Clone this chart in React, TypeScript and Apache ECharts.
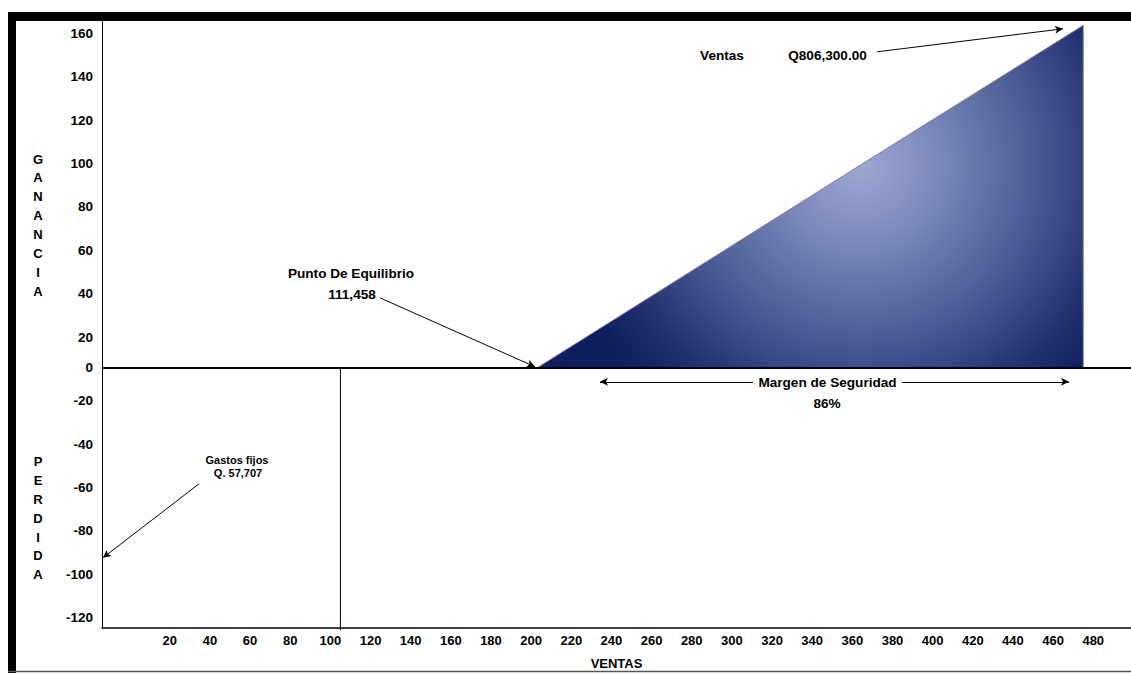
import React, { useEffect, useRef } from "react";
import * as echarts from "echarts";

// ---- data ----
const xTickLabels = [20, 40, 60, 80, 100, 120, 140, 160, 180, 200, 220, 240, 260, 280, 300, 320, 340, 360, 380, 400, 420, 440, 460, 480];
const yMin = -120;
const yMax = 160;
const yStep = 20;
const xMin = -13.75;
const xMax = 498.8;
// profit triangle (break-even -> sales)
const profitArea = [[203, 0], [475, 158], [475, 0]];
// vertical reference line
const refLine = [[105, 0], [105, -121]];
// annotation arrows [from, to]
const salesArrow = [[372.4, 145.8], [464.9, 156.4]];
const breakEvenArrow = [[124.7, 32.3], [201.9, 0.5]];
const fixedCostArrow = [[34.6, -53.5], [-13.3, -87.6]];
const marginLeftArrow = [[310.5, -6.46], [234.3, -6.46]];
const marginRightArrow = [[384.7, -6.46], [467.9, -6.46]];
// texts
const salesLabel = "Ventas";
const salesValue = "Q806,300.00";
const breakEvenLabel = "Punto De Equilibrio";
const breakEvenValue = "111,458";
const marginLabel = "Margen de Seguridad";
const marginValue = "86%";
const fixedLabel = "Gastos fijos";
const fixedValue = "Q. 57,707";
const profitTitle = "GANANCIA";
const lossTitle = "PERDIDA";
const xTitle = "VENTAS";

const FF = "'Liberation Sans', Arial, sans-serif";
const bold = (s: number) => `bold ${s}px ${FF}`;

const arrowItem = (a: number[][]) => [{ coord: a[0] }, { coord: a[1] }];

export default function App() {
  const ref = useRef<HTMLDivElement>(null);
  useEffect(() => {
    if (!ref.current) return;
    const chart = echarts.init(ref.current, undefined, { renderer: "svg" });
    const txt = (text: string, x: number, y: number, size: number, extra: any = {}) => ({
      type: "text",
      x,
      y,
      z: 10,
      style: { text, font: bold(size), fill: "#000", align: "center", verticalAlign: "middle", ...extra },
    });
    chart.setOption({
      animation: false,
      backgroundColor: "#fff",
      grid: { left: 102, top: 21, right: 0, bottom: 45, containLabel: false, outerBoundsMode: "none" },
      xAxis: {
        type: "value",
        min: xMin,
        max: xMax,
        position: "bottom",
        axisLine: { onZero: false, lineStyle: { color: "#000", width: 1.5 } },
        axisTick: { show: false },
        splitLine: { show: false },
        axisLabel: {
          customValues: xTickLabels,
          margin: 6,
          color: "#000",
          fontWeight: "bold",
          fontSize: 13,
          fontFamily: FF,
        },
        name: xTitle,
        nameLocation: "middle",
        nameGap: 29,
        nameTextStyle: { color: "#000", fontWeight: "bold", fontSize: 13, fontFamily: FF },
      },
      yAxis: {
        type: "value",
        min: yMin,
        max: yMax,
        interval: yStep,
        axisLine: { show: true, onZero: false, lineStyle: { color: "#000", width: 1 } },
        axisTick: { show: false },
        splitLine: { show: false },
        axisLabel: {
          margin: 9,
          color: "#000",
          fontWeight: "bold",
          fontSize: 13.5,
          fontFamily: FF,
          formatter: (v: number) => (v > 0 ? `{p|${v}}` : v < 0 ? `{n|${v}}` : `{z|${v}}`),
          rich: {
            p: { padding: [25, 0, 0, 0], fontWeight: "bold", fontSize: 13.5, fontFamily: FF, color: "#000" },
            n: { padding: [0, 0, 21, 0], fontWeight: "bold", fontSize: 13.5, fontFamily: FF, color: "#000" },
            z: { fontWeight: "bold", fontSize: 13.5, fontFamily: FF, color: "#000" },
          },
        },
      },
      series: [
        {
          type: "line",
          data: profitArea,
          symbol: "none",
          lineStyle: { color: "#8677ad", width: 1 },
          areaStyle: {
            opacity: 1,
            color: {
              type: "radial",
              global: true,
              x: 860,
              y: 165,
              r: 310,
              colorStops: [
                { offset: 0, color: "#9ea7d2" },
                { offset: 0.15, color: "#8b95c5" },
                { offset: 0.3, color: "#7382b5" },
                { offset: 0.45, color: "#5d6da2" },
                { offset: 0.6, color: "#465692" },
                { offset: 0.72, color: "#33437f" },
                { offset: 0.86, color: "#1c2c6c" },
                { offset: 1, color: "#0e1d5e" },
              ],
            },
          },
          z: 2,
        },
        {
          type: "line",
          data: refLine,
          symbol: "none",
          clip: false,
          lineStyle: { color: "#000", width: 1 },
          markLine: {
            silent: true,
            symbol: "none",
            label: { show: false },
            lineStyle: { color: "#000", width: 2, type: "solid" },
            data: [{ yAxis: 0 }],
          },
          z: 3,
        },
        {
          type: "line",
          data: [],
          markLine: {
            silent: true,
            symbol: ["none", "arrow"],
            symbolSize: [6, 8],
            label: { show: false },
            lineStyle: { color: "#000", width: 1, type: "solid" },
            data: [
              arrowItem(salesArrow),
              arrowItem(breakEvenArrow),
              arrowItem(fixedCostArrow),
              arrowItem(marginLeftArrow),
              arrowItem(marginRightArrow),
            ],
          },
          z: 4,
        },
      ],
      graphic: [
        { type: "rect", shape: { x: 8, y: 12, width: 1123, height: 9 }, style: { fill: "#000" }, z: 20 },
        { type: "rect", shape: { x: 8, y: 12, width: 8, height: 661 }, style: { fill: "#000" }, z: 20 },
        { type: "line", shape: { x1: 8, y1: 671.5, x2: 1131, y2: 671.5 }, style: { stroke: "#555", lineWidth: 1.5 }, z: 20 },
        txt(salesLabel, 722, 55, 13.6),
        txt(salesValue, 827.5, 55, 13.6),
        txt(breakEvenLabel, 351, 273, 13.6),
        txt(breakEvenValue, 352, 294, 13.6),
        txt(marginLabel, 827.5, 382, 13.6),
        txt(marginValue, 827, 403, 13.6),
        txt(fixedLabel, 237, 460, 11),
        txt(fixedValue, 238, 473, 11),
        txt(profitTitle.split("").join("\n"), 38, 149.6, 13, { verticalAlign: "top", lineHeight: 18.86 }),
        txt(lossTitle.split("").join("\n"), 38, 452.6, 13, { verticalAlign: "top", lineHeight: 18.8 }),
      ],
    });
    return () => chart.dispose();
  }, []);
  return (
    <div
      ref={ref}
      style={{ position: "fixed", left: 0, top: 0, width: 1131, height: 673, background: "#fff" }}
    />
  );
}
